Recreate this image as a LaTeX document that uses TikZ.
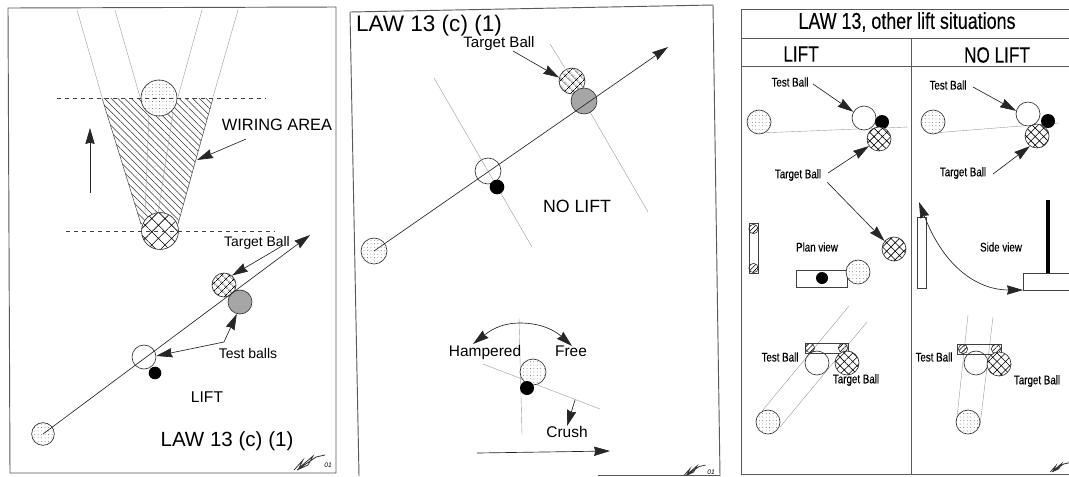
\documentclass[tikz,border=0pt]{standalone}
\usepackage{fontspec}
\setmainfont{Liberation Sans}
\newfontfamily\narrowfont[FakeStretch=0.78,FakeBold=0.25]{Liberation Sans}
\usetikzlibrary{arrows.meta,patterns.meta}
\tikzset{
  ball/.style={circle,draw=black!80,line width=0.5pt,inner sep=0pt,minimum size=18pt},
  cueball/.style={ball,preaction={fill=white},pattern={Dots[distance=2.6pt,radius=0.3pt]},pattern color=black!70},
  targetball/.style={ball,preaction={fill=white},pattern={Hatch[angle=45,distance=#1,line width=0.45pt]}},
  targetball/.default=4pt,
  testball/.style={ball,fill=none},
  greyball/.style={ball,fill=black!35},
  jackball/.style={circle,fill=black,inner sep=0pt,minimum size=#1},
  jackball/.default=9.5pt,
  screw/.style={circle,draw=black!80,inner sep=0pt,minimum size=7pt,line width=0.45pt,pattern={Lines[angle=45,distance=2.6pt,line width=0.45pt]}},
  faint/.style={black!40,line width=0.3pt},
  sheet/.style={black!65,line width=0.7pt},
  pointer/.style={black!85,line width=0.5pt,-{Stealth[length=12pt,width=7pt,inset=1pt]}},
  label/.style={inner sep=0pt,font=\fontsize{10.4pt}{12pt}\selectfont},
  cramped/.style={inner sep=0pt,font=\narrowfont\fontsize{9.4pt}{11pt}\selectfont},
  heading/.style={inner sep=0pt,font=\narrowfont\fontsize{16.5pt}{18pt}\selectfont},
  sign/.pic={
    \draw[black!80,line width=0.6pt] (-16,8) -- (-7,-2) -- (-11,6) -- (3,-6) -- (-2,3) -- (-13,8) -- (6,-5) -- (15,-7);
  }
}
\begin{document}
\begin{tikzpicture}[x=0.75pt,y=-0.75pt]
  \useasboundingbox (0,0) rectangle (1069,476);

  % Left sheet
  \draw[sheet] (8,8) -- (336,7) -- (336,473) -- (10,473) -- cycle;

  % Wiring area
  \fill[pattern={Lines[angle=-45,distance=3.6pt,line width=0.4pt]},pattern color=black!80] (102,98) -- (213,98) -- (178,224) -- (141,224) -- cycle;
  \draw[black!70,line width=0.4pt] (102,98) -- (141,224) (213,98) -- (178,224);
  \foreach \xa/\xb in {77/102, 115/140, 202/178, 238/213} {
      \draw[faint] (\xa,10) -- (\xb,97);
    }
  \draw[faint] (149,115) -- (145,213);
  \draw[faint] (173,113) -- (158,213);
  \node[cueball,minimum size=27pt] (topball) at (159,98) {};
  \node[targetball=7pt,minimum size=27.7pt] (lowball) at (160,231) {};
  \draw[black!75,dashed,line width=0.4pt] (57,98) -- (266,98);
  \draw[black!75,dashed,line width=0.4pt] (66,231) -- (275,231);
  \coordinate (moveup) at (90,193);
  \coordinate (movetip) at (90,128);
  \draw[pointer] (moveup) -- (movetip);
  \node[label,font=\fontsize{12.3pt}{14pt}\selectfont] (wiring) at (277,125) {WIRING AREA};
  \coordinate (wiringfrom) at (246,139);
  \coordinate (wedgeside) at (197,160);
  \draw[pointer] (wiringfrom) -- (wedgeside);

  % Line of the lift
  \node[cueball,minimum size=17pt] (cueA) at (43,434) {};
  \node[testball] (testA) at (144,357) {};
  \node[jackball] (jackA) at (155,373) {};
  \node[targetball] (targetA) at (224,285) {};
  \node[greyball] (greyA) at (240,302) {};
  \coordinate (tipA) at (310,235);
  \draw[pointer] (cueA.center) -- (tipA);

  \node[label] (targetlabelA) at (257,243) {Target Ball};
  \coordinate (targetfromA) at (282,246);
  \draw[pointer] (targetfromA) -- (targetA.50);
  \node[label,font=\fontsize{10.5pt}{12pt}\selectfont] (testlabelA) at (248,353) {Test balls};
  \coordinate (elbowA) at (224,342);
  \draw[pointer] (elbowA) -- (testA.5);
  \draw[pointer] (elbowA) -- (greyA.255);
  \node[label,font=\fontsize{11.7pt}{14pt}\selectfont] (liftA) at (207,397) {LIFT};
  \node[label,font=\fontsize{15.4pt}{18pt}\selectfont] (lawA) at (227,441) {LAW 13 (c) (1)};
  \pic at (310,462) {sign};
  \node[label,font=\itshape\fontsize{5pt}{6pt}\selectfont] (dateA) at (328,465) {01};

  % Middle sheet
  \draw[sheet] (350,12) -- (713,5) -- (720,476);
  \draw[sheet] (350,12) -- (359,476);
  \draw[sheet] (598,475) -- (720,475);
  \node[label,font=\fontsize{16.9pt}{20pt}\selectfont] (lawB) at (429,26) {LAW 13 (c) (1)};
  \node[label,font=\fontsize{11.3pt}{13pt}\selectfont] (targetlabelB) at (499,44) {Target Ball};

  \foreach \xa/\ya/\xb/\yb in {434/78/532/247, 550/44/565/68, 590/112/648/212} {
      \draw[faint] (\xa,\ya) -- (\xb,\yb);
    }
  \node[cueball,minimum size=19.5pt] (cueB) at (374,251) {};
  \node[testball,minimum size=19.5pt] (testB) at (488,171) {};
  \node[jackball=11pt] (jackB) at (497,187) {};
  \node[targetball,minimum size=19.5pt] (targetB) at (572,81) {};
  \node[greyball,minimum size=19.5pt] (greyB) at (584,101) {};
  \coordinate (tipB) at (668,47);
  \draw[pointer] (cueB.center) -- (tipB);
  \coordinate (targetfromB) at (513,51);
  \draw[pointer] (targetfromB) -- (targetB.165);
  \node[label,font=\fontsize{13.3pt}{15pt}\selectfont] (noliftB) at (577,206) {NO LIFT};

  % Hampered and free
  \draw[faint] (519,318) -- (522,435);
  \draw[faint] (483,364) -- (600,409);
  \node[cueball,minimum size=19.5pt] (cueC) at (533,372) {};
  \node[jackball=10.5pt] (jackC) at (527,388) {};
  \node[label,font=\fontsize{11.6pt}{14pt}\selectfont] (hampered) at (485,352) {Hampered};
  \node[label,font=\fontsize{11.6pt}{14pt}\selectfont] (free) at (571,351) {Free};
  \node[label,font=\fontsize{11.6pt}{14pt}\selectfont] (crush) at (567,432) {Crush};
  \coordinate (archtop) at (520,323);
  \draw[pointer] (archtop) to[out=180,in=38] (473,344);
  \draw[pointer] (archtop) to[out=0,in=138] (572,346);
  \coordinate (crushfrom) at (575,400);
  \draw[pointer] (crushfrom) -- (crush.north);
  \coordinate (runfrom) at (477,453);
  \coordinate (runtip) at (610,451);
  \draw[pointer] (runfrom) -- (runtip);
  \pic[scale=0.7] at (695,470) {sign};
  \node[label,font=\itshape\fontsize{5pt}{6pt}\selectfont] (dateB) at (711,472) {01};

  % Right sheet
  \draw[sheet] (1069,9) -- (741,9) -- (741,474) -- (1069,474);
  \draw[sheet] (741,38) -- (1069,38);
  \draw[sheet] (741,66) -- (1069,66);
  \draw[sheet] (911,38) -- (911,474);
  \node[heading,font=\narrowfont\fontsize{17.2pt}{19pt}\selectfont] (title) at (907,22) {LAW 13, other lift situations};
  \node[heading] (lifthead) at (801,54) {LIFT};
  \node[heading] (noliftHead) at (997,55) {NO LIFT};

  % Lift, top
  \draw[faint] (759,133) -- (908,127);
  \node[cueball] (cueD) at (759,122) {};
  \node[testball,fill=white] (testD) at (864,118) {};
  \node[jackball=10.5pt] (jackD) at (882,122) {};
  \node[targetball=4.5pt] (targetD) at (879,139) {};
  \node[targetball=4.5pt] (targetE) at (894,249) {};
  \node[cramped] (testlabelD) at (790,82) {Test Ball};
  \node[cramped] (targetlabelD) at (798,175) {Target Ball};
  \coordinate (testfromD) at (813,84);
  \coordinate (targetfromD) at (828,173);
  \coordinate (targetfromE) at (827,182);
  \draw[pointer] (testfromD) -- (testD.150);
  \draw[pointer] (targetfromD) -- (targetD.215);
  \draw[pointer] (targetfromE) -- (targetE.140);

  % Plan view
  \node[draw=black!75,line width=0.4pt,minimum width=6.8pt,minimum height=37.5pt,inner sep=0pt] (tableedge) at (753.5,248) {};
  \foreach \sy in {229, 268} {
      \node[screw] at (753.5,\sy) {};
    }
  \node[cramped] (planview) at (817,247) {Plan view};
  \node[draw=black!75,line width=0.4pt,minimum width=38pt,minimum height=13pt,inner sep=0pt] (planbar) at (821.5,278.5) {};
  \node[jackball=9pt] (jackF) at (822,278) {};
  \node[cueball] (cueF) at (858,272) {};

  % Lift, bottom
  \foreach \xa/\ya/\xb/\yb in {762/411/849/306, 780/427/867/322} {
      \draw[faint] (\xa,\ya) -- (\xb,\yb);
    }
  \node[draw=black!75,line width=0.4pt,minimum width=32pt,minimum height=7.5pt,inner sep=0pt] (barG) at (826.5,348) {};
  \foreach \sx in {810, 843} {
      \node[screw] at (\sx,348) {};
    }
  \node[testball] (testG) at (817,363) {};
  \node[targetball=4.5pt] (targetG) at (847,363) {};
  \node[cueball] (cueG) at (768,422) {};
  \node[cramped] (testlabelG) at (780,357) {Test Ball};
  \node[cramped] (targetlabelG) at (856,380) {Target Ball};

  % No lift, top
  \draw[faint] (933,133) -- (1059,123);
  \node[cueball] (cueH) at (933,122) {};
  \node[testball,fill=white] (testH) at (1028,114) {};
  \node[jackball=10.5pt] (jackH) at (1048,121) {};
  \node[targetball=4.5pt] (targetH) at (1037,136) {};
  \node[cramped] (testlabelH) at (948,85) {Test Ball};
  \node[cramped] (targetlabelH) at (963,173) {Target Ball};
  \coordinate (testfromH) at (973,87);
  \coordinate (targetfromH) at (993,174);
  \draw[pointer] (testfromH) -- (testH.165);
  \draw[pointer] (targetfromH) -- (targetH.235);

  % Side view
  \node[draw=black!75,line width=0.4pt,minimum width=7pt,minimum height=53pt,inner sep=0pt] (wall) at (921.5,252.5) {};
  \draw[black,line width=2.6pt] (1048,200) -- (1048,273);
  \draw[black!75,line width=0.45pt] (1069,273) -- (1023,273) -- (1023,290) -- (1069,290);
  \node[cramped] (sideview) at (1001,247) {Side view};
  \coordinate (curveup) at (919,202);
  \coordinate (curvedown) at (1023,290);
  \draw[black!85,line width=0.5pt,{Stealth[length=12pt,width=7pt,inset=1pt]}-{Stealth[length=12pt,width=7pt,inset=1pt]}] (curveup) .. controls (945,270) and (980,290) .. (curvedown);

  % No lift, bottom
  \foreach \xa/\ya/\xb/\yb in {968/315/957/417, 993/317/980/425} {
      \draw[faint] (\xa,\ya) -- (\xb,\yb);
    }
  \node[draw=black!75,line width=0.4pt,minimum width=33pt,minimum height=7.5pt,inner sep=0pt] (barJ) at (979,349) {};
  \foreach \sx in {963, 996} {
      \node[screw] at (\sx,349) {};
    }
  \node[testball] (testJ) at (976,363) {};
  \node[targetball=4.5pt] (targetJ) at (999,364) {};
  \node[cueball] (cueJ) at (968,422) {};
  \node[cramped] (testlabelJ) at (934,357) {Test Ball};
  \node[cramped] (targetlabelJ) at (1037,381) {Target Ball};
  \pic[scale=0.6] at (1060,467) {sign};
\end{tikzpicture}
\end{document}
